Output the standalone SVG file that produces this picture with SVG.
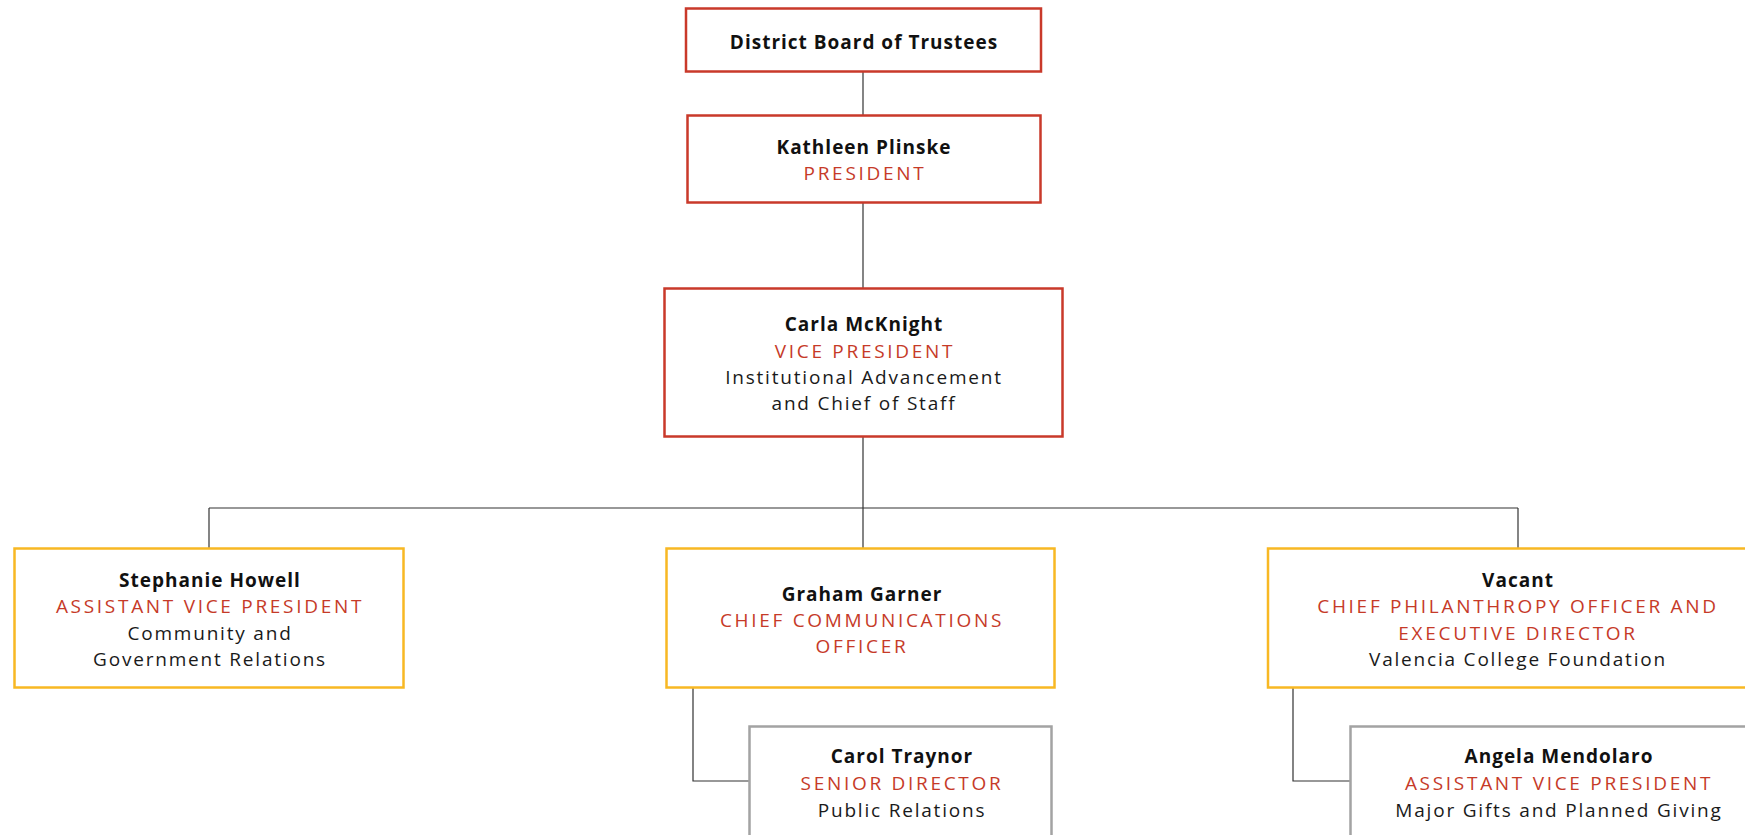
<svg xmlns="http://www.w3.org/2000/svg" width="1745" height="835" viewBox="0 0 1745 835">
<style>
.box{fill:#fff;stroke-width:2.5}
.red{stroke:#c9392a}
.gold{stroke:#f8b823}
.gray{stroke:#a3a3a3}
text{font-family:"Open Sans","Liberation Sans",sans-serif;font-size:19px;text-anchor:middle}
.n{font-weight:bold;fill:#111;letter-spacing:1px}
.t{fill:#c63a28;letter-spacing:2.7px;font-weight:500}
.d{fill:#1a1a1a;letter-spacing:1.8px}
.conn path{fill:none;stroke:#333;stroke-width:1.2}
</style>
<rect width="1745" height="835" fill="#fff"/>
<g class="conn">
<path d="M863 72V115"/>
<path d="M863 203V288"/>
<path d="M863 437V548"/>
<path d="M209 508H1518"/>
<path d="M209 508V548"/>
<path d="M1518 508V548"/>
<path d="M693 688V781H749"/>
<path d="M1293 688V781H1350"/>
</g>
<g id="board">
<rect class="box red" x="686" y="8.5" width="355" height="63"/>
<text class="n" x="864" y="49">District Board of Trustees</text>
</g>
<g id="president">
<rect class="box red" x="687.5" y="115.5" width="353" height="87"/>
<text class="n" x="864" y="154">Kathleen Plinske</text>
<text class="t" x="865" y="180">PRESIDENT</text>
</g>
<g id="vp">
<rect class="box red" x="664.5" y="288.5" width="398" height="148"/>
<text class="n" x="864" y="331">Carla McKnight</text>
<text class="t" x="865" y="358">VICE PRESIDENT</text>
<text class="d" x="864" y="384">Institutional Advancement</text>
<text class="d" x="864" y="410">and Chief of Staff</text>
</g>
<g id="howell">
<rect class="box gold" x="14.5" y="548.5" width="389" height="139"/>
<text class="n" x="210" y="587">Stephanie Howell</text>
<text class="t" x="210" y="613">ASSISTANT VICE PRESIDENT</text>
<text class="d" x="210" y="640">Community and</text>
<text class="d" x="210" y="666">Government Relations</text>
</g>
<g id="garner">
<rect class="box gold" x="666.5" y="548.5" width="388" height="139"/>
<text class="n" x="862" y="601">Graham Garner</text>
<text class="t" x="862" y="627">CHIEF COMMUNICATIONS</text>
<text class="t" x="862" y="653">OFFICER</text>
</g>
<g id="vacant">
<rect class="box gold" x="1268" y="548.5" width="500" height="139"/>
<text class="n" x="1518" y="587">Vacant</text>
<text class="t" x="1518" y="613">CHIEF PHILANTHROPY OFFICER AND</text>
<text class="t" x="1518" y="640">EXECUTIVE DIRECTOR</text>
<text class="d" x="1518" y="666">Valencia College Foundation</text>
</g>
<g id="traynor">
<rect class="box gray" x="749.5" y="726.5" width="302" height="140"/>
<text class="n" x="902" y="763">Carol Traynor</text>
<text class="t" x="902" y="790">SENIOR DIRECTOR</text>
<text class="d" x="902" y="817">Public Relations</text>
</g>
<g id="mendolaro">
<rect class="box gray" x="1350.5" y="726.5" width="416" height="140"/>
<text class="n" x="1559" y="763">Angela Mendolaro</text>
<text class="t" x="1559" y="790">ASSISTANT VICE PRESIDENT</text>
<text class="d" x="1559" y="817">Major Gifts and Planned Giving</text>
</g>
</svg>
